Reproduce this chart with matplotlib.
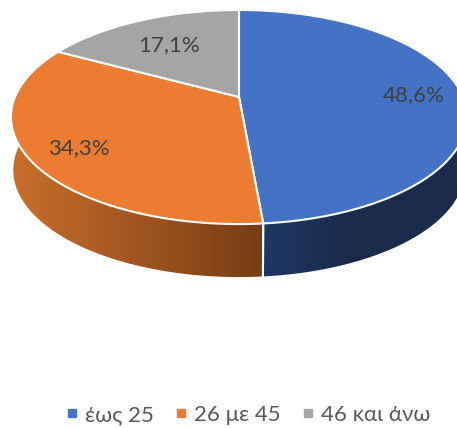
import numpy as np
import matplotlib
matplotlib.use("Agg")
import matplotlib.pyplot as plt
from matplotlib.lines import Line2D
from matplotlib.patches import Polygon

labels = ["έως 25", "26 με 45", "46 και άνω"]
values = [48.6, 34.3, 17.1]
value_labels = ["48,6%", "34,3%", "17,1%"]
colors = ["#4472C4", "#EB7C31", "#A5A5A5"]
side_left = ["#1F3864", "#C96F2C", "#7C7C7C"]
side_right = ["#1A2B4C", "#773C14", "#636363"]
label_pos = [(414, 95), (79, 148), (169, 45)]

plt.rcParams["font.family"] = ["Lato", "Open Sans", "DejaVu Sans"]

# pie seen in perspective: circle -> ellipse by a projective map
cx, cy = 239, 97
a, b, k = 224, 103.3, 0.187
depth = 53
shrink = 0.99


def project(t, scale=1.0, dy=0.0):
    w = 1 + k * np.cos(t)
    return cx + scale * a * np.sin(t) / w, cy - b * np.cos(t) / w + dy


fig = plt.figure(figsize=(4.57, 4.28), dpi=100)
ax = fig.add_axes([0, 0, 1, 1])
ax.axis("off")

edges = np.concatenate([[0], np.cumsum(values)]) / sum(values) * 2 * np.pi

# side wall, only the part facing the viewer
for i in range(len(values)):
    t = np.linspace(edges[i], edges[i + 1], 200)
    x, y = project(t)
    x2, y2 = project(t, shrink, depth)
    front = np.cos(t) < 0.45
    if not front.any():
        continue
    poly = Polygon(np.r_[np.c_[x[front], y[front]], np.c_[x2[front], y2[front]][::-1]],
                   closed=True, fc="none", ec="none", transform=ax.transData)
    ax.add_patch(poly)
    c0 = np.array(matplotlib.colors.to_rgb(side_left[i]))
    c1 = np.array(matplotlib.colors.to_rgb(side_right[i]))
    f = np.linspace(0, 1, 256)
    # blue settles quickly after the seam, orange darkens all the way to it
    if i == 0:
        f = np.clip(f * 2.5, 0, 1)
    grad = c0 + (c1 - c0) * f[:, None]
    xmin, xmax = min(x[front].min(), x2[front].min()), max(x[front].max(), x2[front].max())
    im = ax.imshow(grad[None, :, :], extent=[xmin, xmax, 300, 0], aspect="auto", zorder=1)
    im.set_clip_path(poly)
    # seam between the walls
    for e in (edges[i], edges[i + 1]):
        if np.cos(e) < -0.5:
            x3, y3 = project(e)
            x4, y4 = project(e, shrink, depth)
            ax.plot([x3, x4], [y3, y4], color="white", lw=1.5, zorder=2)
ax.set_xlim(0, 457)
ax.set_ylim(428, 0)

# top face
for i in range(len(values)):
    t = np.linspace(edges[i], edges[i + 1], 200)
    x, y = project(t)
    ax.add_patch(Polygon(np.r_[[[cx, cy]], np.c_[x, y]], closed=True, fc=colors[i],
                         ec="white", lw=1.5, joinstyle="round", zorder=3))
    ax.text(label_pos[i][0], label_pos[i][1], value_labels[i], color="#404040", fontsize=16,
            ha="center", va="center", zorder=4)

handles = [Line2D([], [], ls="", marker="s", ms=5.5, color=c) for c in colors]
ax.legend(handles, labels, loc="center", bbox_to_anchor=(245.5 / 457, 1 - 415 / 428), ncol=3,
          frameon=False, fontsize=16, labelcolor="#595959", handletextpad=0.1,
          columnspacing=0.72, handlelength=1.0, borderpad=0)

fig.savefig("out.png", dpi=100)
